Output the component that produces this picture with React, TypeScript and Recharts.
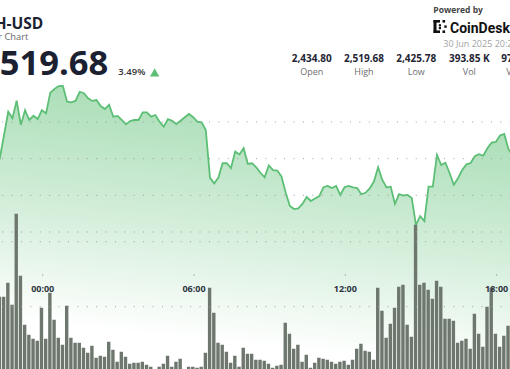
import React from 'react';
import { ComposedChart, Area, Bar, XAxis, YAxis, ReferenceLine } from 'recharts';

// time of the first point, in minutes relative to 00:00 on 30 Jun 2025 (22:08 on 29 Jun)
const START_MINUTE = -112;
const STEP_MINUTES = 10;

const PRICE = [
  2472.7, 2480.4, 2492.9, 2505.6, 2502.0, 2511.6, 2498.4, 2506.5, 2501.1, 2503.4,
  2501.6, 2506.5, 2504.7, 2516.0, 2518.0, 2519.6, 2519.68, 2511.1, 2510.7, 2511.5,
  2516.5, 2515.7, 2512.9, 2511.5, 2512.0, 2508.7, 2507.1, 2509.3, 2502.9, 2503.3,
  2501.1, 2498.7, 2500.5, 2501.1, 2501.1, 2505.3, 2505.3, 2502.9, 2503.8, 2500.2,
  2497.4, 2501.6, 2500.7, 2498.9, 2500.7, 2502.6, 2504.4, 2502.6, 2500.2, 2499.8,
  2495.6, 2469.5, 2466.5, 2469.7, 2477.5, 2477.5, 2474.9, 2483.9, 2482.3, 2485.7,
  2477.1, 2477.5, 2475.2, 2472.3, 2469.8, 2476.3, 2473.8, 2473.5, 2470.3, 2461.5,
  2454.2, 2452.5, 2452.9, 2455.3, 2459.1, 2456.9, 2458.3, 2459.6, 2464.4, 2465.1,
  2464.0, 2465.1, 2460.2, 2464.4, 2465.1, 2464.3, 2464.0, 2460.6, 2461.4, 2463.8,
  2467.5, 2475.3, 2468.4, 2464.3, 2464.7, 2455.3, 2460.7, 2459.9, 2460.2, 2458.5,
  2443.8, 2448.7, 2446.0, 2464.8, 2464.8, 2482.0, 2476.5, 2477.8, 2472.2, 2465.8,
  2469.3, 2473.8, 2476.9, 2477.6, 2481.3, 2482.4, 2481.6, 2485.7, 2488.8, 2489.1,
  2492.6, 2493.5, 2485.3, 2481.5,
];

const VOLUME = [
  60, 75, 75, 89, 67, 158, 96, 47, 37, 33,
  31, 64, 33, 79, 52, 34, 27, 66, 34, 29,
  29, 24, 19, 26, 14, 16, 15, 30, 22, 10,
  20, 15, 8, 9, 9, 10, 7, 5, 2, 5,
  8, 16, 5, 10, 13, 2, 5, 5, 4, 5,
  19, 84, 59, 29, 27, 20, 9, 16, 5, 24,
  18, 18, 12, 12, 11, 8, 4, 6, 7, 49,
  38, 23, 27, 10, 17, 4, 9, 14, 13, 12,
  10, 8, 10, 11, 7, 12, 23, 28, 21, 20,
  12, 84, 61, 34, 48, 64, 85, 87, 47, 35,
  147, 87, 89, 82, 73, 91, 85, 53, 53, 51,
  29, 31, 33, 23, 58, 38, 25, 65, 84, 38,
  25, 36, 46, 40,
];

const TICK_MINUTES = [0, 360, 720, 1080];
const TICK_LABELS = ['00:00', '06:00', '12:00', '18:00'];
const PRICE_GRID = [2440, 2460, 2480, 2500];
const VOLUME_GRID = [65, 130];

const STAT_VALUES = ['2,434.80', '2,519.68', '2,425.78', '393.85 K', '974.76 M'];
const STAT_LABELS = ['Open', 'High', 'Low', 'Vol', 'Vol USD'];

const data = PRICE.map((p, k) => ({
  t: START_MINUTE + k * STEP_MINUTES,
  price: p,
  volume: VOLUME[k],
}));

const OX = 20; // chart svg is shifted left by this many px
const FONT = "'Open Sans', sans-serif";
const GREEN = '#5cbf75';

const renderTick = (props: any) => {
  const { x, payload } = props;
  const idx = TICK_MINUTES.indexOf(payload.value);
  return (
    <g>
      <rect x={x - 0.5} y={274.3} width={1} height={1.4} fill="#9a9a9a" />
      <text x={x} y={292.3} textAnchor="middle" fontFamily={FONT} fontSize={9} fontWeight={700} fill="#2d3340">
        {TICK_LABELS[idx]}
      </text>
    </g>
  );
};

const STAT_CENTERS = [311.7, 364, 416.3, 469.3, 523];

export default function App() {
  return (
    <div style={{ position: 'fixed', left: 0, top: 0, width: 510, height: 369, overflow: 'hidden', background: '#fff' }}>
      <div style={{ position: 'absolute', left: -OX, top: 0 }}>
        <ComposedChart
          width={541.9}
          height={372.7}
          data={data}
          margin={{ top: 48.67, right: 0, bottom: 0, left: 12.26 }}
        >
          <defs>
            <linearGradient id="areaFill" gradientUnits="userSpaceOnUse" x1={OX} y1={85} x2={OX - 24.6} y2={317.4}>
              <stop offset="0" stopColor={GREEN} stopOpacity={0.5} />
              <stop offset="0.5" stopColor={GREEN} stopOpacity={0.27} />
              <stop offset="1" stopColor={GREEN} stopOpacity={0} />
            </linearGradient>
          </defs>
          <XAxis
            type="number"
            dataKey="t"
            domain={[-120, 1140]}
            ticks={TICK_MINUTES}
            interval={0}
            allowDataOverflow
            height={1}
            axisLine={false}
            tickLine={false}
            tick={renderTick}
          />
          <YAxis yAxisId="price" hide domain={[2363.8, 2540]} allowDataOverflow />
          <YAxis yAxisId="vol" hide domain={[0, 323.03]} allowDataOverflow />
          {PRICE_GRID.map((v) => (
            <ReferenceLine key={'p' + v} yAxisId="price" y={v} stroke="#9e9e9e" strokeDasharray="1 8.4" strokeDashoffset={-0.5} />
          ))}
          {VOLUME_GRID.map((v) => (
            <ReferenceLine key={'v' + v} yAxisId="vol" y={v} stroke="#9e9e9e" strokeDasharray="1 8.4" strokeDashoffset={-0.5} />
          ))}
          <Area
            yAxisId="price"
            type="linear"
            dataKey="price"
            stroke={GREEN}
            strokeWidth={1.8}
            fill="url(#areaFill)"
            fillOpacity={1}
            dot={false}
            activeDot={false}
            isAnimationActive={false}
          />
          <Bar yAxisId="vol" dataKey="volume" fill="#6e776e" barSize={3.4} isAnimationActive={false} />
        </ComposedChart>
      </div>
      <svg width={510} height={369} style={{ position: 'absolute', left: 0, top: 0 }} fontFamily={FONT}>
        <text x={43.3} y={29.3} textAnchor="end" fontSize={15.5} fontWeight={700} fill="#1b2130">ETH-USD</text>
        <text x={28.3} y={40} textAnchor="end" fontSize={9.3} fill="#666">24 Hour Chart</text>
        <text x={108.3} y={75} textAnchor="end" fontSize={34.5} fontWeight={700} fill="#1b2130">2,519.68</text>
        <text x={118.3} y={75} fontSize={9.5} fontWeight={600} fill="#333">3.49%</text>
        <polygon points="150,76.5 159.3,76.5 154.65,68.3" fill={GREEN} />

        <text x={433.3} y={12.8} fontSize={8.5} fontWeight={700} fill="#444">Powered by</text>
        <g fill="#111">
          <rect x={433.5} y={20} width={3} height={13} />
          <rect x={433.5} y={20} width={6.5} height={2.6} />
          <rect x={433.5} y={30.4} width={6.5} height={2.6} />
          <rect x={438.8} y={24.2} width={2.2} height={2.2} />
          <rect x={438.8} y={27} width={2.2} height={2.2} />
          <rect x={442.5} y={20} width={2.6} height={2.6} />
          <rect x={442.5} y={30.4} width={2.6} height={2.6} />
          <rect x={444.3} y={25.4} width={2.4} height={2.4} />
        </g>
        <text x={450} y={32.5} fontSize={14} fontWeight={700} fill="#111" fontFamily="Roboto">CoinDesk</text>
        <text x={443.3} y={47} fontSize={9} fill="#a3a3a3">30 Jun 2025 20:23 UTC</text>

        {STAT_VALUES.map((v, i) => (
          <g key={v}>
            <text x={STAT_CENTERS[i]} y={61.7} textAnchor="middle" fontSize={10} fontWeight={700} fill="#1e2433">{v}</text>
            <text x={STAT_CENTERS[i]} y={74.7} textAnchor="middle" fontSize={9} fill="#6e6e6e">{STAT_LABELS[i]}</text>
          </g>
        ))}
      </svg>
    </div>
  );
}
